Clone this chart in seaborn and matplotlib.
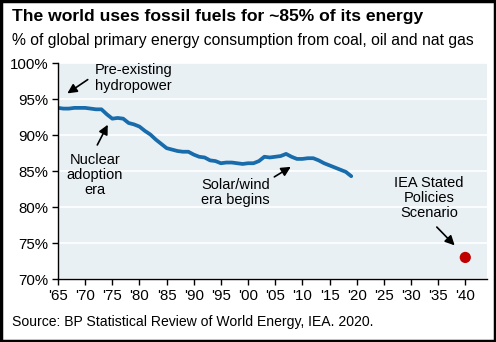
import matplotlib
matplotlib.use("Agg")
import matplotlib.pyplot as plt
import seaborn as sns
import pandas as pd
from matplotlib.patches import Rectangle

years = list(range(1965, 2020))
fossil_share = [93.8, 93.7, 93.7, 93.8, 93.8, 93.8, 93.7, 93.6, 93.6, 92.9,
                92.3, 92.4, 92.3, 91.7, 91.5, 91.2, 90.6, 90.1, 89.4, 88.8,
                88.2, 88.0, 87.8, 87.7, 87.7, 87.3, 87.0, 86.9, 86.5, 86.4,
                86.1, 86.2, 86.2, 86.1, 86.0, 86.1, 86.1, 86.4, 87.0, 86.9,
                87.0, 87.1, 87.4, 87.0, 86.7, 86.7, 86.8, 86.8, 86.5, 86.1,
                85.8, 85.5, 85.2, 84.9, 84.3]
scenario_year = [2040]
scenario_value = [73.0]
xtick_years = list(range(1965, 2041, 5))
xtick_labels = ["'65", "'70", "'75", "'80", "'85", "'90", "'95", "'00", "'05",
                "'10", "'15", "'20", "'25", "'30", "'35", "'40"]
ytick_values = [70, 75, 80, 85, 90, 95, 100]
ytick_labels = ["70%", "75%", "80%", "85%", "90%", "95%", "100%"]

sns.set_style("white")
plt.rcParams['font.family'] = ['Liberation Sans', 'DejaVu Sans']
plt.rcParams['text.color'] = 'black'

hist = pd.DataFrame({"year": years, "share": fossil_share})
proj = pd.DataFrame({"year": scenario_year, "share": scenario_value})

fig = plt.figure(figsize=(4.96, 3.42), dpi=100)
ax = fig.add_axes([58/496, 1-279/342, (487-58)/496, (279-63.3)/342])
ax.set_facecolor("#E9F0F4")

sns.lineplot(data=hist, x="year", y="share", ax=ax, color="#186CAB", linewidth=2.7)
sns.scatterplot(data=proj, x="year", y="share", ax=ax, color="#C00000", s=65,
                edgecolor="none", zorder=5)

ax.set_xlim(1965, 2044)
ax.set_ylim(70, 100)
ax.set_xticks(xtick_years)
ax.set_xticklabels(xtick_labels)
ax.set_yticks(ytick_values)
ax.set_yticklabels(ytick_labels)
ax.set_xlabel("")
ax.set_ylabel("")
ax.grid(axis="y", color="white", linewidth=1.2)
ax.set_axisbelow(True)
for s in ["top", "right"]:
    ax.spines[s].set_visible(False)
for s in ["left", "bottom"]:
    ax.spines[s].set_color("black")
    ax.spines[s].set_linewidth(1.0)
ax.tick_params(axis="both", which="both", direction="out", length=4, width=1,
               color="black", labelsize=10.8, labelcolor="black", pad=3,
               bottom=True, left=True)

ak = dict(arrowstyle="-|>", color="black", lw=1.2, mutation_scale=14)
ax.annotate("", xy=(1966.3, 95.6), xytext=(1970.9, 97.95), arrowprops=ak)
ax.text(1971.8, 97.95, "Pre-existing\nhydropower", ha="left", va="center",
        fontsize=10.5, linespacing=1.1, color="black")
ax.annotate("", xy=(1974.4, 91.8), xytext=(1972.0, 88.3), arrowprops=ak)
ax.text(1971.8, 84.5, "Nuclear\nadoption\nera", ha="center", va="center",
        fontsize=10.5, linespacing=1.1, color="black")
ax.annotate("", xy=(2008.3, 85.8), xytext=(2004.4, 84.0), arrowprops=ak)
ax.text(1991.4, 82.0, "Solar/wind\nera begins", ha="left", va="center",
        fontsize=10.5, linespacing=1.1, color="black")
ax.annotate("", xy=(2038.4, 74.4), xytext=(2034.4, 77.5), arrowprops=ak)
ax.text(2033.3, 81.3, "IEA Stated\nPolicies\nScenario", ha="center", va="center",
        fontsize=10.5, linespacing=1.1, color="black")

fig.text(12/496, 1-17/342, "The world uses fossil fuels for ~85% of its energy",
         fontsize=12.6, fontweight="bold", ha="left", va="center", color="black")
fig.text(12/496, 1-40/342, "% of global primary energy consumption from coal, oil and nat gas",
         fontsize=11.3, ha="left", va="center", color="black")
fig.text(12/496, 1-322/342, "Source: BP Statistical Review of World Energy, IEA. 2020.",
         fontsize=10.1, ha="left", va="center", color="black")

fig.patches.append(Rectangle((0.003, 0.004), 0.994, 0.992, transform=fig.transFigure,
                             fill=False, edgecolor="black", linewidth=2.5))

fig.savefig("out.png", dpi=100)
